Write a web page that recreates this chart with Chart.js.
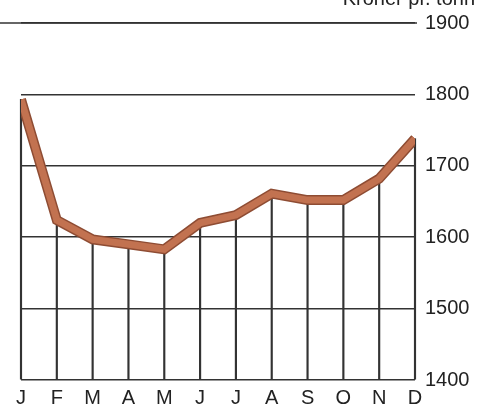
<!DOCTYPE html>
<html>
<head>
<meta charset="utf-8">
<script src="https://cdn.jsdelivr.net/npm/chart.js@4"></script>
<style>
  html, body { margin: 0; padding: 0; background: #fff; }
  #wrap { width: 481px; height: 406px; }
</style>
</head>
<body>
<div id="wrap"><canvas id="myChart"></canvas></div>
<script>
"use strict";

/* data */
const months = ['J', 'F', 'M', 'A', 'M', 'J', 'J', 'A', 'S', 'O', 'N', 'D'];
const prices = [1793, 1624, 1597, 1590, 1583, 1620, 1631, 1661, 1652, 1652, 1682, 1738];
const yTicks = [1400, 1500, 1600, 1700, 1800, 1900];
const unitLabel = 'Kroner pr. tonn';

const textFont = { family: '"Liberation Sans", Arial, sans-serif', size: 20 };

/* top line that runs out to the left edge + the unit text */
const extras = {
    id: 'extras',
    beforeDatasetsDraw(chart) {
        const ctx = chart.ctx;
        const y = chart.scales.y.getPixelForValue(yTicks[yTicks.length - 1]);
        ctx.save();
        ctx.strokeStyle = '#333';
        ctx.lineWidth = 1.5;
        ctx.beginPath();
        ctx.moveTo(0, y);
        ctx.lineTo(chart.chartArea.right + 2, y);
        ctx.stroke();
        ctx.fillStyle = '#222';
        ctx.font = '20px "Liberation Sans", Arial, sans-serif';
        ctx.textAlign = 'right';
        ctx.textBaseline = 'alphabetic';
        ctx.fillText(unitLabel, 475, 5);
        ctx.restore();
    }
};

const ctx1 = document.getElementById('myChart');

new Chart(ctx1, {
    data: {
        labels: months,
        datasets: [{
            type: 'line',
            data: prices,
            borderColor: '#c27250',
            borderWidth: 7,
            pointRadius: 0,
            tension: 0,
            clip: 0,
            order: 1
        }, {
            type: 'line',
            data: prices,
            borderColor: '#8e4c33',
            borderWidth: 10,
            pointRadius: 0,
            tension: 0,
            clip: 0,
            order: 2
        }, {
            type: 'bar',
            data: prices,
            base: 1400,
            backgroundColor: '#333',
            barThickness: 1.5,
            clip: false,
            order: 3
        }]
    },
    options: {
        responsive: true,
        maintainAspectRatio: false,
        animation: false,
        events: [],
        layout: { padding: { left: 21, top: 23, right: 0, bottom: 0 } },
        plugins: { legend: { display: false }, tooltip: { enabled: false } },
        scales: {
            x: {
                offset: false,
                grid: { display: false },
                border: { display: false },
                afterFit(scale) { scale.height = 26; },
                ticks: { color: '#222', font: textFont, padding: -2, maxRotation: 0 }
            },
            y: {
                position: 'right',
                min: 1400,
                max: 1900,
                afterBuildTicks(scale) {
                    scale.ticks = yTicks.map(v => ({ value: v }));
                },
                afterFit(scale) { scale.width = 66; },
                grid: { color: '#333', lineWidth: 1.5, drawTicks: false },
                border: { display: false },
                ticks: {
                    color: '#222', font: textFont, padding: 10,
                    callback: v => String(v)
                }
            }
        }
    },
    plugins: [extras]
});
</script>
</body>
</html>
